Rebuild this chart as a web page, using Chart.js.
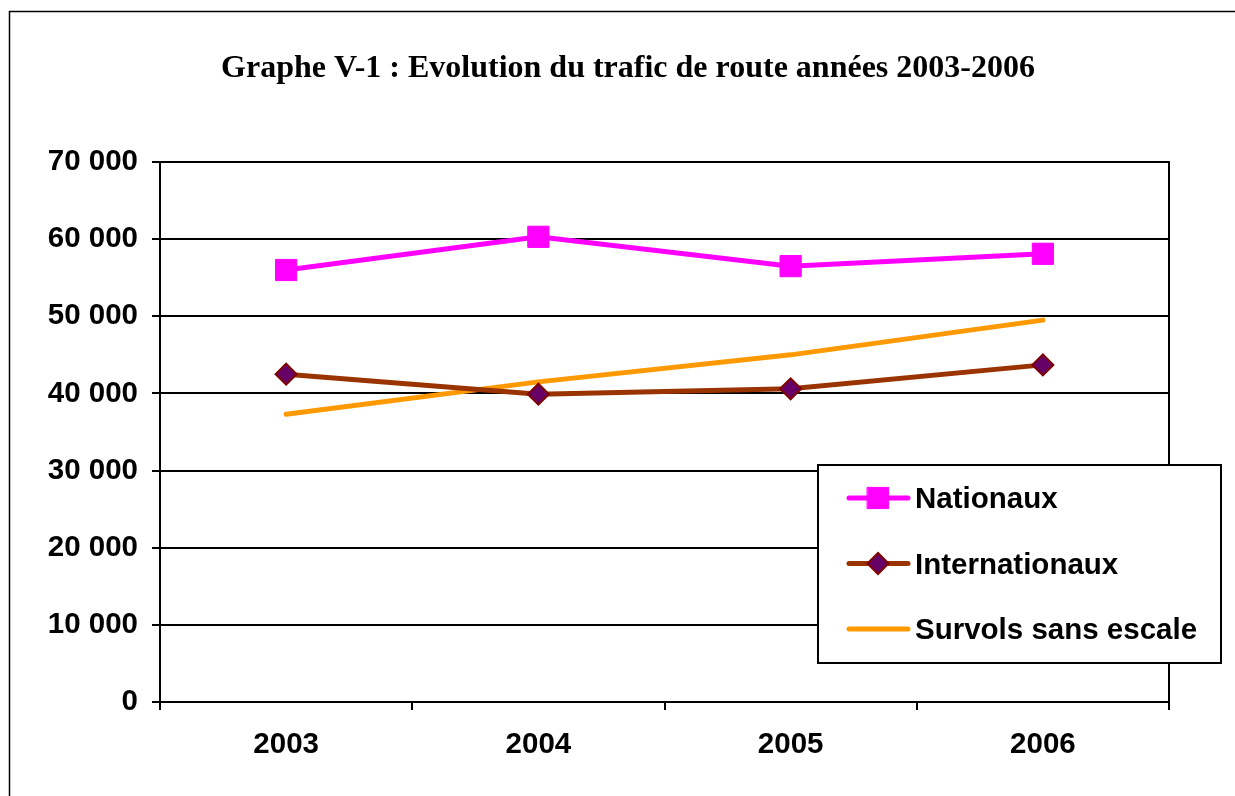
<!DOCTYPE html>
<html>
<head>
<meta charset="utf-8">
<script src="https://cdn.jsdelivr.net/npm/chart.js@4"></script>
<style>
  body { margin: 0; background: #fff; }
  canvas { display: block; }
</style>
</head>
<body>
<canvas id="chart" width="1235" height="796"></canvas>
<script>
const years = ['2003', '2004', '2005', '2006'];
const nationaux = [56000, 60300, 56500, 58100];
const internationaux = [42500, 39900, 40600, 43700];
const survols = [37300, 41500, 45000, 49500];
const yTicks = [0, 10000, 20000, 30000, 40000, 50000, 60000, 70000];

const titleText = 'Graphe V-1 : Evolution du trafic de route années 2003-2006';
const sansFont = '"Liberation Sans", Arial, sans-serif';

function formatNumber(v) {
  return String(v).replace(/\B(?=(\d{3})+(?!\d))/g, ' ');
}

// white page, outer frame, title and plot area border
const framePlugin = {
  id: 'frame',
  beforeDraw(chart) {
    const ctx = chart.ctx;
    ctx.save();
    ctx.fillStyle = '#fff';
    ctx.fillRect(0, 0, chart.width, chart.height);
    ctx.strokeStyle = '#000';
    ctx.lineWidth = 1.5;
    ctx.strokeRect(9.5, 11.5, chart.width + 20, chart.height + 20);
    ctx.fillStyle = '#000';
    ctx.font = 'bold 32px "Liberation Serif", "Times New Roman", serif';
    ctx.textAlign = 'center';
    ctx.textBaseline = 'middle';
    ctx.fillText(titleText, 628, 69);
    ctx.restore();
  },
  beforeDatasetsDraw(chart) {
    const a = chart.chartArea;
    const ctx = chart.ctx;
    ctx.save();
    ctx.strokeStyle = '#000';
    ctx.lineWidth = 2;
    ctx.strokeRect(a.left, a.top, a.right - a.left, a.bottom - a.top);
    ctx.restore();
  }
};

// boxed legend inside the plot area, like the original
const legendPlugin = {
  id: 'boxLegend',
  afterDraw(chart) {
    const ctx = chart.ctx;
    const box = { x: 818, y: 465, w: 403, h: 198 };
    ctx.save();
    ctx.fillStyle = '#fff';
    ctx.fillRect(box.x, box.y, box.w, box.h);
    ctx.strokeStyle = '#000';
    ctx.lineWidth = 2;
    ctx.strokeRect(box.x, box.y, box.w, box.h);
    ctx.font = 'bold 29.5px ' + sansFont;
    ctx.textBaseline = 'middle';
    chart.data.datasets.forEach((ds, i) => {
      const y = 498 + i * 65.5;
      ctx.strokeStyle = ds.borderColor;
      ctx.lineWidth = ds.borderWidth;
      ctx.lineCap = 'round';
      ctx.beginPath();
      ctx.moveTo(849, y);
      ctx.lineTo(908, y);
      ctx.stroke();
      if (ds.pointRadius > 0) {
        ctx.fillStyle = ds.pointBackgroundColor;
        ctx.strokeStyle = ds.pointBorderColor;
        ctx.lineWidth = ds.pointBorderWidth;
        Chart.helpers.drawPoint(ctx, {
          pointStyle: ds.pointStyle,
          radius: ds.pointRadius,
          borderWidth: ds.pointBorderWidth,
          rotation: 0
        }, 878, y);
      }
      ctx.fillStyle = '#000';
      ctx.fillText(ds.label, 915, y + 2);
    });
    ctx.restore();
  }
};

new Chart(document.getElementById('chart'), {
  type: 'line',
  data: {
    labels: years,
    datasets: [
      {
        label: 'Nationaux',
        data: nationaux,
        borderColor: '#ff00ff',
        borderWidth: 5,
        pointStyle: 'rect',
        pointRadius: 15,
        pointBackgroundColor: '#ff00ff',
        pointBorderColor: '#ff00ff',
        pointBorderWidth: 1,
        tension: 0
      },
      {
        label: 'Internationaux',
        data: internationaux,
        borderColor: '#993300',
        borderWidth: 5,
        pointStyle: 'rectRot',
        pointRadius: 10.5,
        pointBackgroundColor: '#660066',
        pointBorderColor: '#800000',
        pointBorderWidth: 2,
        tension: 0
      },
      {
        label: 'Survols sans escale',
        data: survols,
        borderColor: '#ff9900',
        borderWidth: 5,
        pointRadius: 0,
        pointBorderWidth: 0,
        borderCapStyle: 'round',
        tension: 0
      }
    ]
  },
  options: {
    responsive: false,
    animation: false,
    layout: { padding: { left: 0, top: 162, right: 66, bottom: 0 } },
    plugins: {
      legend: { display: false },
      title: { display: false },
      tooltip: { enabled: false }
    },
    scales: {
      x: {
        type: 'category',
        offset: true,
        afterFit(scale) { scale.height = 94; },
        grid: {
          offset: true,
          drawOnChartArea: false,
          drawTicks: true,
          tickLength: 8,
          color: '#000',
          lineWidth: 2
        },
        border: { display: true, color: '#000', width: 2 },
        ticks: {
          color: '#000',
          padding: 17,
          font: { family: sansFont, size: 29.5, weight: 'bold' }
        }
      },
      y: {
        min: 0,
        max: 70000,
        afterFit(scale) { scale.width = 160; },
        afterBuildTicks(scale) { scale.ticks = yTicks.map(v => ({ value: v })); },
        grid: {
          color: '#000',
          lineWidth: 2,
          tickLength: 8
        },
        border: { display: true, color: '#000', width: 2 },
        ticks: {
          color: '#000',
          padding: 14,
          callback: v => formatNumber(v),
          font: { family: sansFont, size: 29.5, weight: 'bold' }
        }
      }
    }
  },
  plugins: [framePlugin, legendPlugin]
});
</script>
</body>
</html>
